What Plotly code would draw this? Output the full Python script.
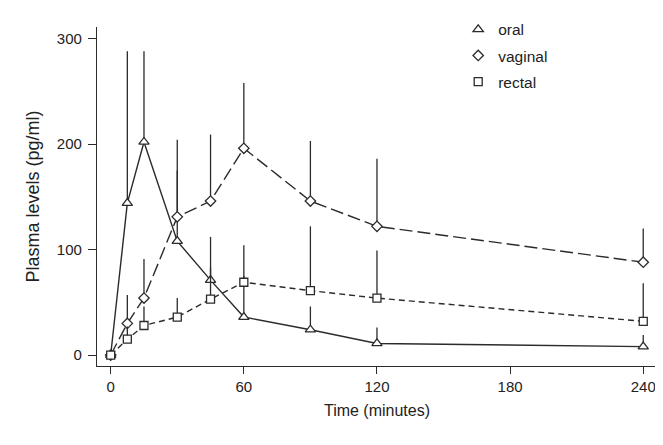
import plotly.graph_objects as go

# ---- data ----
time_min = [0, 7.5, 15, 30, 45, 60, 90, 120, 240]

oral = [0, 144, 202, 108, 71, 36, 24, 11, 8]
oral_err = [0, 144, 86, 67, 41, 39, 22, 15, 11]

vaginal = [0, 30, 54, 131, 146, 196, 146, 122, 88]
vaginal_err = [0, 27, 37, 73, 63, 62, 57, 64, 32]

rectal = [0, 15, 28, 36, 53, 69, 61, 54, 32]
rectal_err = [0, 12, 18, 18, 30, 35, 61, 45, 36]

series_names = ["oral", "vaginal", "rectal"]
x_ticks = [0, 60, 120, 180, 240]
y_ticks = [0, 100, 200, 300]

INK = "#2b2b2b"
BG = "#ffffff"

series = [
    (series_names[0], oral, oral_err, "solid", "triangle-up", 9),
    (series_names[1], vaginal, vaginal_err, "13px,5px", "diamond", 8),
    (series_names[2], rectal, rectal_err, "6px,4px", "square", 8),
]

fig = go.Figure()

# lines first (no legend)
for name, vals, err, dash, sym, sz in series:
    fig.add_trace(go.Scatter(
        x=time_min, y=vals, mode="lines", showlegend=False,
        line=dict(color=INK, width=1.4, dash=dash), hoverinfo="skip"))

# markers + upper error bars (legend shows symbol only)
for i, (name, vals, err, dash, sym, sz) in enumerate(series):
    fig.add_trace(go.Scatter(
        x=time_min, y=vals, mode="markers", name=name,
        legendgroup=name,
        marker=dict(symbol=sym, size=sz, color=BG,
                    line=dict(color=INK, width=1.3)),
        error_y=dict(type="data", symmetric=False, array=err,
                     arrayminus=[0] * len(err), width=0,
                     color=INK, thickness=1.3)))

# page body has an 8px default margin, so the figure is sized/placed to compensate
fig.update_layout(
    width=655, height=437,
    margin=dict(l=89, r=6, t=18, b=79),
    paper_bgcolor=BG, plot_bgcolor=BG,
    font=dict(family="Liberation Sans, Arial, sans-serif", size=15, color="#222"),
    legend=dict(x=0.645, y=1.039, xanchor="left", yanchor="top",
                bgcolor="rgba(0,0,0,0)", tracegroupgap=3,
                traceorder="grouped", font=dict(size=15.5)),
    xaxis=dict(range=[-6.17, 246.2], tickvals=x_ticks, ticks="outside",
               ticklen=7, tickcolor=INK, tickwidth=1.2,
               showline=True, linecolor=INK, linewidth=1.3,
               showgrid=False, zeroline=False, automargin=False,
               title=dict(text="Time (minutes)", font=dict(size=16), standoff=10)),
    yaxis=dict(range=[-10.4, 311], tickvals=y_ticks, ticks="outside",
               ticklen=8, tickcolor=INK, tickwidth=1.2, ticklabelstandoff=3,
               showline=True, linecolor=INK, linewidth=1.3,
               showgrid=False, zeroline=False, automargin=False,
               title=dict(text="Plasma levels (pg/ml)", font=dict(size=18), standoff=12)),
)

fig.write_html("out.html")
